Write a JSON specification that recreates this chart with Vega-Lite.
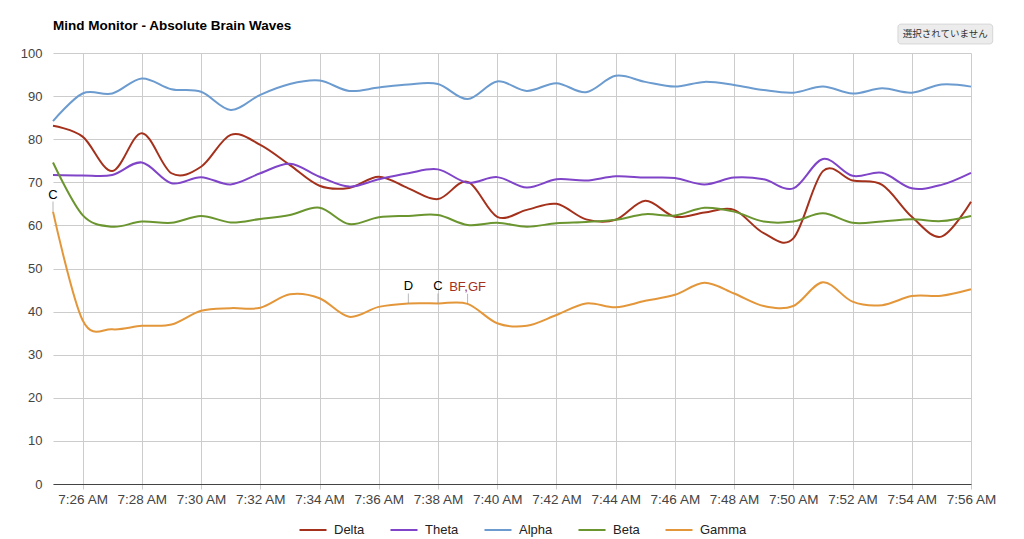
{
  "$schema": "https://vega.github.io/schema/vega-lite/v6.json",
  "width": 918,
  "height": 431,
  "autosize": "none",
  "padding": {"left": 53, "top": 53, "right": 53, "bottom": 55},
  "background": "white",
  "title": {
    "text": "Mind Monitor - Absolute Brain Waves",
    "anchor": "start",
    "frame": "group",
    "font": "Liberation Sans",
    "fontSize": 13.5,
    "fontWeight": "bold",
    "color": "#000",
    "baseline": "alphabetic",
    "offset": 3,
    "dy": 23
  },
  "datasets": {
    "waves": [
      {"time": "2024-01-01T07:25", "Delta": 83.1, "Theta": 71.7, "Alpha": 84.2, "Beta": 74.6, "Gamma": 63.2},
      {"time": "2024-01-01T07:26", "Delta": 80.6, "Theta": 71.6, "Alpha": 90.6, "Beta": 62.4, "Gamma": 38.0},
      {"time": "2024-01-01T07:27", "Delta": 72.6, "Theta": 71.7, "Alpha": 90.6, "Beta": 59.7, "Gamma": 35.9},
      {"time": "2024-01-01T07:28", "Delta": 81.4, "Theta": 74.6, "Alpha": 94.1, "Beta": 60.9, "Gamma": 36.7},
      {"time": "2024-01-01T07:29", "Delta": 72.1, "Theta": 69.8, "Alpha": 91.6, "Beta": 60.6, "Gamma": 37.0},
      {"time": "2024-01-01T07:30", "Delta": 73.6, "Theta": 71.2, "Alpha": 91.0, "Beta": 62.2, "Gamma": 40.2},
      {"time": "2024-01-01T07:31", "Delta": 81.0, "Theta": 69.5, "Alpha": 86.8, "Beta": 60.7, "Gamma": 40.8},
      {"time": "2024-01-01T07:32", "Delta": 78.7, "Theta": 72.1, "Alpha": 90.3, "Beta": 61.5, "Gamma": 40.9},
      {"time": "2024-01-01T07:33", "Delta": 74.0, "Theta": 74.3, "Alpha": 92.8, "Beta": 62.4, "Gamma": 44.0},
      {"time": "2024-01-01T07:34", "Delta": 69.2, "Theta": 71.3, "Alpha": 93.6, "Beta": 64.1, "Gamma": 43.1},
      {"time": "2024-01-01T07:35", "Delta": 68.7, "Theta": 69.0, "Alpha": 91.2, "Beta": 60.3, "Gamma": 38.8},
      {"time": "2024-01-01T07:36", "Delta": 71.3, "Theta": 70.7, "Alpha": 92.0, "Beta": 61.9, "Gamma": 41.1},
      {"time": "2024-01-01T07:37", "Delta": 68.6, "Theta": 72.1, "Alpha": 92.7, "Beta": 62.2, "Gamma": 41.9},
      {"time": "2024-01-01T07:38", "Delta": 66.1, "Theta": 73.0, "Alpha": 92.8, "Beta": 62.4, "Gamma": 41.9},
      {"time": "2024-01-01T07:39", "Delta": 70.1, "Theta": 69.9, "Alpha": 89.3, "Beta": 60.1, "Gamma": 41.8},
      {"time": "2024-01-01T07:40", "Delta": 62.0, "Theta": 71.2, "Alpha": 93.4, "Beta": 60.6, "Gamma": 37.3},
      {"time": "2024-01-01T07:41", "Delta": 63.6, "Theta": 68.8, "Alpha": 91.2, "Beta": 59.7, "Gamma": 36.7},
      {"time": "2024-01-01T07:42", "Delta": 65.0, "Theta": 70.7, "Alpha": 93.0, "Beta": 60.5, "Gamma": 39.2},
      {"time": "2024-01-01T07:43", "Delta": 61.4, "Theta": 70.4, "Alpha": 90.9, "Beta": 60.8, "Gamma": 41.9},
      {"time": "2024-01-01T07:44", "Delta": 61.3, "Theta": 71.4, "Alpha": 94.7, "Beta": 61.3, "Gamma": 41.0},
      {"time": "2024-01-01T07:45", "Delta": 65.7, "Theta": 71.1, "Alpha": 93.3, "Beta": 62.6, "Gamma": 42.5},
      {"time": "2024-01-01T07:46", "Delta": 62.0, "Theta": 71.0, "Alpha": 92.2, "Beta": 62.3, "Gamma": 43.9},
      {"time": "2024-01-01T07:47", "Delta": 63.0, "Theta": 69.5, "Alpha": 93.3, "Beta": 64.1, "Gamma": 46.7},
      {"time": "2024-01-01T07:48", "Delta": 63.6, "Theta": 71.1, "Alpha": 92.6, "Beta": 63.2, "Gamma": 44.2},
      {"time": "2024-01-01T07:49", "Delta": 58.2, "Theta": 70.7, "Alpha": 91.4, "Beta": 60.9, "Gamma": 41.3},
      {"time": "2024-01-01T07:50", "Delta": 57.0, "Theta": 68.6, "Alpha": 90.8, "Beta": 60.9, "Gamma": 41.3},
      {"time": "2024-01-01T07:51", "Delta": 72.6, "Theta": 75.4, "Alpha": 92.2, "Beta": 62.8, "Gamma": 46.8},
      {"time": "2024-01-01T07:52", "Delta": 70.4, "Theta": 71.5, "Alpha": 90.6, "Beta": 60.6, "Gamma": 42.3},
      {"time": "2024-01-01T07:53", "Delta": 69.4, "Theta": 72.2, "Alpha": 91.8, "Beta": 60.9, "Gamma": 41.5},
      {"time": "2024-01-01T07:54", "Delta": 62.0, "Theta": 68.6, "Alpha": 90.8, "Beta": 61.4, "Gamma": 43.6},
      {"time": "2024-01-01T07:55", "Delta": 57.4, "Theta": 69.4, "Alpha": 92.7, "Beta": 61.0, "Gamma": 43.7},
      {"time": "2024-01-01T07:56", "Delta": 65.5, "Theta": 72.2, "Alpha": 92.2, "Beta": 62.2, "Gamma": 45.2}
    ],
    "notes": [
      {"time": "2024-01-01T07:25", "Gamma": 63.2, "label": "C"},
      {"time": "2024-01-01T07:37", "Gamma": 41.9, "label": "D"},
      {"time": "2024-01-01T07:38", "Gamma": 41.9, "label": "C"},
      {"time": "2024-01-01T07:39", "Gamma": 41.8, "label": "BF,GF"}
    ],
    "button": [
      {"start": "2024-01-01T07:53:32", "end": "2024-01-01T07:56:44", "mid": "2024-01-01T07:55:08", "top": 106.7, "bottom": 102.1, "center": 104.4, "label": "選択されていません"}
    ]
  },
  "config": {
    "font": "Liberation Sans",
    "view": {"stroke": null}
  },
  "layer": [
    {
      "data": {"name": "waves"},
      "transform": [{"fold": ["Delta", "Theta", "Alpha", "Beta", "Gamma"], "as": ["wave", "value"]}],
      "mark": {"type": "line", "interpolate": "cardinal", "strokeWidth": 2},
      "encoding": {
        "x": {
          "field": "time",
          "type": "temporal",
          "scale": {
            "nice": false,
            "domain": [
              {"year": 2024, "month": 1, "date": 1, "hours": 7, "minutes": 25},
              {"year": 2024, "month": 1, "date": 1, "hours": 7, "minutes": 56}
            ]
          },
          "axis": {
            "title": null,
            "format": "%-I:%M %p",
            "values": [
              {"year": 2024, "month": 1, "date": 1, "hours": 7, "minutes": 26},
              {"year": 2024, "month": 1, "date": 1, "hours": 7, "minutes": 28},
              {"year": 2024, "month": 1, "date": 1, "hours": 7, "minutes": 30},
              {"year": 2024, "month": 1, "date": 1, "hours": 7, "minutes": 32},
              {"year": 2024, "month": 1, "date": 1, "hours": 7, "minutes": 34},
              {"year": 2024, "month": 1, "date": 1, "hours": 7, "minutes": 36},
              {"year": 2024, "month": 1, "date": 1, "hours": 7, "minutes": 38},
              {"year": 2024, "month": 1, "date": 1, "hours": 7, "minutes": 40},
              {"year": 2024, "month": 1, "date": 1, "hours": 7, "minutes": 42},
              {"year": 2024, "month": 1, "date": 1, "hours": 7, "minutes": 44},
              {"year": 2024, "month": 1, "date": 1, "hours": 7, "minutes": 46},
              {"year": 2024, "month": 1, "date": 1, "hours": 7, "minutes": 48},
              {"year": 2024, "month": 1, "date": 1, "hours": 7, "minutes": 50},
              {"year": 2024, "month": 1, "date": 1, "hours": 7, "minutes": 52},
              {"year": 2024, "month": 1, "date": 1, "hours": 7, "minutes": 54},
              {"year": 2024, "month": 1, "date": 1, "hours": 7, "minutes": 56}
            ],
            "labelOverlap": false,
            "labelFlush": false,
            "labelFontSize": 13.5,
            "labelColor": "#444",
            "labelPadding": 3,
            "tickSize": 5,
            "tickColor": "#ccc",
            "gridColor": "#cccccc",
            "domainColor": "#444"
          }
        },
        "y": {
          "field": "value",
          "type": "quantitative",
          "scale": {"domain": [0, 100], "nice": false},
          "axis": {
            "title": null,
            "values": [0, 10, 20, 30, 40, 50, 60, 70, 80, 90, 100],
            "labelFontSize": 13,
            "labelColor": "#444",
            "labelPadding": 11,
            "ticks": false,
            "domain": false,
            "gridColor": "#cccccc"
          }
        },
        "color": {
          "field": "wave",
          "type": "nominal",
          "scale": {
            "domain": ["Delta", "Theta", "Alpha", "Beta", "Gamma"],
            "range": ["#a4311c", "#7f44c8", "#6b9bcf", "#6a952f", "#e3973a"]
          },
          "legend": {
            "title": null,
            "orient": "none",
            "direction": "horizontal",
            "legendX": 245,
            "legendY": 462,
            "symbolType": "stroke",
            "symbolSize": 730,
            "symbolStrokeWidth": 2,
            "labelFontSize": 13,
            "labelColor": "#222",
            "labelOffset": 6,
            "columnPadding": 21
          }
        }
      }
    },
    {
      "data": {"name": "notes"},
      "mark": {"type": "tick", "orient": "vertical", "size": 10, "thickness": 1, "color": "#999", "yOffset": -5},
      "encoding": {
        "x": {"field": "time", "type": "temporal"},
        "y": {"field": "Gamma", "type": "quantitative"}
      }
    },
    {
      "data": {"name": "notes"},
      "mark": {"type": "text", "fontSize": 13, "baseline": "alphabetic", "dy": -13},
      "encoding": {
        "x": {"field": "time", "type": "temporal"},
        "y": {"field": "Gamma", "type": "quantitative"},
        "text": {"field": "label"},
        "color": {"condition": {"test": "datum.label === 'BF,GF'", "value": "#a4311c"}, "value": "#000"}
      }
    },
    {
      "data": {"name": "button"},
      "mark": {"type": "rect", "fill": "#ececec", "stroke": "#d6d6d6", "cornerRadius": 3},
      "encoding": {
        "x": {"field": "start", "type": "temporal"},
        "x2": {"field": "end"},
        "y": {"field": "top", "type": "quantitative"},
        "y2": {"field": "bottom"}
      }
    },
    {
      "data": {"name": "button"},
      "mark": {"type": "text", "font": "Noto Sans CJK JP", "fontSize": 9.5, "color": "#333"},
      "encoding": {
        "x": {"field": "mid", "type": "temporal"},
        "y": {"field": "center", "type": "quantitative"},
        "text": {"field": "label"}
      }
    }
  ]
}
